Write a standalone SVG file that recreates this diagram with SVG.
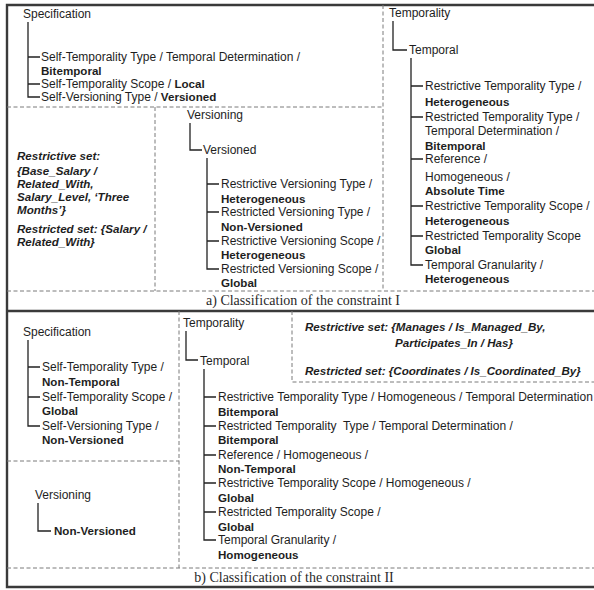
<svg xmlns="http://www.w3.org/2000/svg" width="594" height="590" viewBox="0 0 594 590">
  <style>
    text { font-family: "Liberation Sans", Arial, sans-serif; fill: #1e1e1e; }
    .t { font-size: 12px; }
    .b { font-size: 11.6px; font-weight: bold; }
    .bi { font-size: 11.6px; font-weight: bold; font-style: italic; }
    .cap { font-family: "Liberation Serif", "Times New Roman", serif; font-size: 14px; fill: #2a2a2a; }
    .pre { white-space: pre; }
    .tree { fill: none; stroke: #222; stroke-width: 1.3; }
    .dash { fill: none; stroke: #7a7a7a; stroke-width: 1; stroke-dasharray: 4 2.5; }
    .frame { fill: none; stroke: #3a3a3a; stroke-width: 2.4; }
  </style>
  <rect width="594" height="590" fill="#ffffff"/>

  <!-- frame and panel separators -->
  <g id="frame">
    <path class="frame" d="M594 5 H7 V587 H594"/>
    <path class="frame" d="M7 311 H594" stroke-width="2"/>
    <path class="dash" d="M7 107 H383 M383 5 V291 M155 107 V291 M7 291 H594"/>
    <path class="dash" d="M179 311 V568 M7 461 H179 M292 311 V382 H594 M7 568 H594"/>
  </g>

  <!-- tree connectors -->
  <g id="connectors">
    <!-- panel a: specification -->
    <path class="tree" d="M28 22 V97 H40 M28 57 H40 M28 84 H40"/>
    <!-- panel a: versioning -->
    <path class="tree" d="M190 123 V150 H202"/>
    <path class="tree" d="M207 158 V269 H219 M207 184 H219 M207 212 H219 M207 241 H219"/>
    <!-- panel a: temporality -->
    <path class="tree" d="M393 21 V50 H407"/>
    <path class="tree" d="M411 58 V265 H423 M411 86 H423 M411 117 H423 M411 159 H423 M411 206 H423 M411 236 H423"/>
    <!-- panel b: specification -->
    <path class="tree" d="M28 340 V426 H40 M28 367 H40 M28 397 H40"/>
    <!-- panel b: versioning -->
    <path class="tree" d="M38 503 V531 H51"/>
    <!-- panel b: temporality -->
    <path class="tree" d="M186 331 V360 H198"/>
    <path class="tree" d="M204 369 V540 H216 M204 397 H216 M204 426 H216 M204 455 H216 M204 483 H216 M204 512 H216"/>
  </g>

  <!-- panel a -->
  <g id="a-specification">
    <text class="t" x="23" y="18">Specification</text>
    <text class="t" x="41" y="61">Self-Temporality Type / Temporal Determination /</text>
    <text class="b" x="41" y="75">Bitemporal</text>
    <text class="t" x="41" y="88">Self-Temporality Scope / <tspan class="b">Local</tspan></text>
    <text class="t" x="41" y="101">Self-Versioning Type / <tspan class="b">Versioned</tspan></text>
  </g>

  <g id="a-sets">
    <text class="bi" x="17" y="160">Restrictive set:</text>
    <text class="bi" x="17" y="175">{Base_Salary /</text>
    <text class="bi" x="17" y="188">Related_With,</text>
    <text class="bi" x="17" y="201">Salary_Level, ‘Three</text>
    <text class="bi" x="17" y="214">Months’}</text>
    <text class="bi" x="17" y="233">Restricted set: {Salary /</text>
    <text class="bi" x="17" y="246">Related_With}</text>
  </g>

  <g id="a-versioning">
    <text class="t" x="187" y="119">Versioning</text>
    <text class="t" x="203" y="154">Versioned</text>
    <text class="t" x="221" y="188">Restrictive Versioning Type /</text>
    <text class="b" x="221" y="203">Heterogeneous</text>
    <text class="t" x="221" y="216">Restricted Versioning Type /</text>
    <text class="b" x="221" y="231">Non-Versioned</text>
    <text class="t" x="221" y="245">Restrictive Versioning Scope /</text>
    <text class="b" x="221" y="259">Heterogeneous</text>
    <text class="t" x="221" y="273">Restricted Versioning Scope /</text>
    <text class="b" x="221" y="287">Global</text>
  </g>

  <g id="a-temporality">
    <text class="t" x="389" y="17">Temporality</text>
    <text class="t" x="409" y="54">Temporal</text>
    <text class="t" x="425" y="90">Restrictive Temporality Type /</text>
    <text class="b" x="425" y="106">Heterogeneous</text>
    <text class="t" x="425" y="121">Restricted Temporality Type /</text>
    <text class="t" x="425" y="135">Temporal Determination /</text>
    <text class="b" x="425" y="150">Bitemporal</text>
    <text class="t" x="425" y="163">Reference /</text>
    <text class="t" x="425" y="181">Homogeneous /</text>
    <text class="b" x="425" y="195">Absolute Time</text>
    <text class="t" x="425" y="210">Restrictive Temporality Scope /</text>
    <text class="b" x="425" y="225">Heterogeneous</text>
    <text class="t" x="425" y="240">Restricted Temporality Scope</text>
    <text class="b" x="425" y="254">Global</text>
    <text class="t" x="425" y="269">Temporal Granularity /</text>
    <text class="b" x="425" y="283">Heterogeneous</text>
  </g>

  <g id="a-caption">
    <text class="cap" x="303" y="305" text-anchor="middle">a) Classification of the constraint I</text>
  </g>

  <!-- panel b -->
  <g id="b-specification">
    <text class="t" x="23" y="336">Specification</text>
    <text class="t" x="42" y="371">Self-Temporality Type /</text>
    <text class="b" x="42" y="386">Non-Temporal</text>
    <text class="t" x="42" y="401">Self-Temporality Scope /</text>
    <text class="b" x="42" y="415">Global</text>
    <text class="t" x="42" y="430">Self-Versioning Type /</text>
    <text class="b" x="42" y="444">Non-Versioned</text>
  </g>

  <g id="b-versioning">
    <text class="t" x="35" y="499">Versioning</text>
    <text class="b" x="54" y="535">Non-Versioned</text>
  </g>

  <g id="b-temporality">
    <text class="t" x="183" y="327">Temporality</text>
    <text class="t" x="200" y="365">Temporal</text>
    <text class="t" x="218" y="401" font-size="11.8">Restrictive Temporality Type / Homogeneous / Temporal Determination</text>
    <text class="b" x="218" y="416">Bitemporal</text>
    <text class="t pre" x="218" y="430">Restricted Temporality  Type / Temporal Determination /</text>
    <text class="b" x="218" y="444">Bitemporal</text>
    <text class="t" x="218" y="459">Reference / Homogeneous /</text>
    <text class="b" x="218" y="473">Non-Temporal</text>
    <text class="t" x="218" y="487">Restrictive Temporality Scope / Homogeneous /</text>
    <text class="b" x="218" y="502">Global</text>
    <text class="t" x="218" y="516">Restricted Temporality Scope /</text>
    <text class="b" x="218" y="531">Global</text>
    <text class="t" x="218" y="544">Temporal Granularity /</text>
    <text class="b" x="218" y="559">Homogeneous</text>
  </g>

  <g id="b-sets">
    <text class="bi" x="305" y="331">Restrictive set: {Manages / Is_Managed_By,</text>
    <text class="bi" x="395" y="347">Participates_In / Has}</text>
    <text class="bi" x="305" y="375">Restricted set: {Coordinates / Is_Coordinated_By}</text>
  </g>

  <g id="b-caption">
    <text class="cap" x="294" y="582" text-anchor="middle" font-size="15">b) Classification of the constraint II</text>
  </g>
</svg>
